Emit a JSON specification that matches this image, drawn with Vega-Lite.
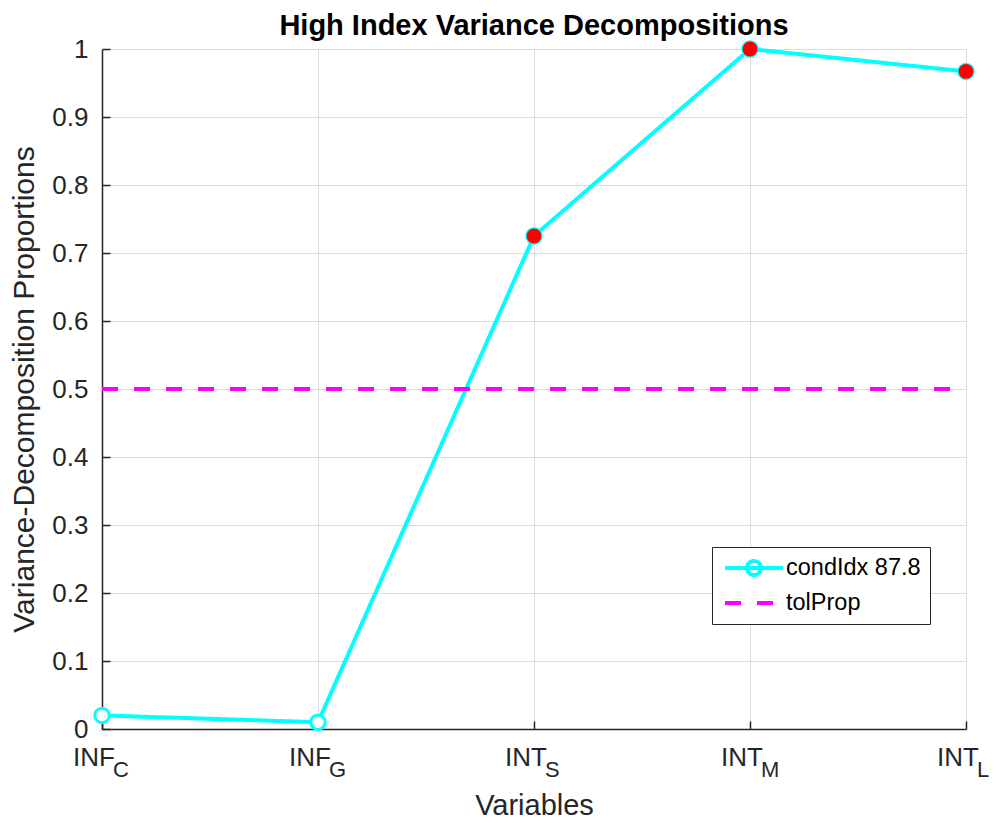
{
  "$schema": "https://vega.github.io/schema/vega-lite/v6.json",
  "width": 864,
  "height": 680,
  "autosize": {"type": "none"},
  "padding": {"left": 102, "top": 49, "right": 30, "bottom": 94},
  "background": "white",
  "config": {
    "view": {"stroke": null},
    "font": "Liberation Sans",
    "axis": {
      "domainColor": "#262626",
      "tickColor": "#262626",
      "labelColor": "#262626",
      "titleColor": "#262626",
      "gridColor": "#dcdcdc",
      "labelFont": "Liberation Sans",
      "titleFont": "Liberation Sans",
      "titleFontWeight": "normal"
    }
  },
  "title": {
    "text": "High Index Variance Decompositions",
    "fontSize": 29,
    "fontWeight": "bold",
    "font": "Liberation Sans",
    "color": "#000000",
    "anchor": "middle",
    "offset": -5
  },
  "datasets": {
    "lines": [
      {"var": "INF_C", "value": 0.02, "series": "condIdx 87.8"},
      {"var": "INF_G", "value": 0.01, "series": "condIdx 87.8"},
      {"var": "INT_S", "value": 0.725, "series": "condIdx 87.8"},
      {"var": "INT_M", "value": 1.0, "series": "condIdx 87.8"},
      {"var": "INT_L", "value": 0.967, "series": "condIdx 87.8"},
      {"var": "INF_C", "value": 0.5, "series": "tolProp"},
      {"var": "INT_L", "value": 0.5, "series": "tolProp"}
    ],
    "labels": [
      {"var": "INF_C", "main": "INF", "sub": "C"},
      {"var": "INF_G", "main": "INF", "sub": "G"},
      {"var": "INT_S", "main": "INT", "sub": "S"},
      {"var": "INT_M", "main": "INT", "sub": "M"},
      {"var": "INT_L", "main": "INT", "sub": "L"}
    ]
  },
  "layer": [
    {
      "data": {"name": "lines"},
      "mark": {"type": "line", "strokeWidth": 4},
      "encoding": {
        "x": {
          "field": "var",
          "type": "ordinal",
          "sort": ["INF_C", "INF_G", "INT_S", "INT_M", "INT_L"],
          "scale": {"type": "point", "padding": 0, "domain": ["INF_C", "INF_G", "INT_S", "INT_M", "INT_L"]},
          "axis": {
            "labels": false,
            "grid": true,
            "tickSize": -8,
            "tickWidth": 1.5,
            "domainWidth": 1.5,
            "title": "Variables",
            "titleFontSize": 29,
            "titlePadding": 62
          }
        },
        "y": {
          "field": "value",
          "type": "quantitative",
          "scale": {"domain": [0, 1], "nice": false, "zero": true},
          "axis": {
            "values": [0, 0.1, 0.2, 0.3, 0.4, 0.5, 0.6, 0.7, 0.8, 0.9, 1],
            "format": "~g",
            "labelFontSize": 26,
            "tickSize": -8,
            "tickWidth": 1.5,
            "domainWidth": 1.5,
            "labelPadding": 22,
            "grid": true,
            "title": "Variance-Decomposition Proportions",
            "titleFontSize": 30,
            "titlePadding": 12
          }
        },
        "color": {
          "field": "series",
          "type": "nominal",
          "scale": {"domain": ["condIdx 87.8", "tolProp"], "range": ["#00ffff", "#ff00ff"]},
          "legend": {
            "title": null,
            "orient": "none",
            "legendX": 610,
            "legendY": 498,
            "fillColor": "white",
            "strokeColor": "#262626",
            "padding": 9,
            "symbolSize": 400,
            "symbolStrokeWidth": 4,
            "symbolOffset": 21,
            "labelOffset": 20,
            "labelFontSize": 23.5,
            "labelColor": "#000000",
            "labelFont": "Liberation Sans",
            "rowPadding": 8,
            "encode": {
              "symbols": {
                "update": {
                  "shape": {"signal": "datum.value === 'condIdx 87.8' ? 'M-2.9,0H2.9M0.7,0A0.7,0.7,0,1,1,-0.7,0A0.7,0.7,0,1,1,0.7,0' : 'M-2.9,0H2.9'"},
                  "fill": {"value": "white"}
                }
              }
            }
          }
        },
        "strokeDash": {
          "field": "series",
          "type": "nominal",
          "scale": {"domain": ["condIdx 87.8", "tolProp"], "range": [[1, 0], [16, 16]]},
          "legend": {"title": null}
        }
      }
    },
    {
      "data": {"name": "lines"},
      "transform": [{"filter": "datum.series === 'condIdx 87.8'"}],
      "mark": {"type": "point", "shape": "circle", "size": 210, "strokeWidth": 3, "stroke": "#00ffff", "fill": "white", "filled": true, "opacity": 1},
      "encoding": {
        "x": {"field": "var", "type": "ordinal"},
        "y": {"field": "value", "type": "quantitative"}
      }
    },
    {
      "data": {"name": "lines"},
      "transform": [{"filter": "datum.series === 'condIdx 87.8' && datum.value > 0.5"}],
      "mark": {"type": "point", "shape": "circle", "size": 220, "strokeWidth": 0, "fill": "#ff0000", "filled": true, "opacity": 1},
      "encoding": {
        "x": {"field": "var", "type": "ordinal"},
        "y": {"field": "value", "type": "quantitative"}
      }
    },
    {
      "data": {"name": "labels"},
      "mark": {"type": "text", "align": "right", "baseline": "alphabetic", "fontSize": 26, "dx": 13, "dy": 37, "color": "#262626", "font": "Liberation Sans"},
      "encoding": {
        "x": {"field": "var", "type": "ordinal"},
        "y": {"datum": 0},
        "text": {"field": "main"}
      }
    },
    {
      "data": {"name": "labels"},
      "mark": {"type": "text", "align": "left", "baseline": "alphabetic", "fontSize": 22, "dx": 11, "dy": 48, "color": "#262626", "font": "Liberation Sans"},
      "encoding": {
        "x": {"field": "var", "type": "ordinal"},
        "y": {"datum": 0},
        "text": {"field": "sub"}
      }
    }
  ]
}
